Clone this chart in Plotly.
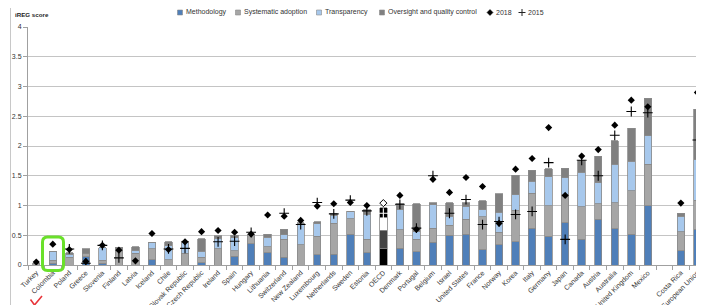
import plotly.graph_objects as go

countries = ["Turkey", "Colombia", "Poland", "Greece", "Slovenia", "Finland", "Latvia", "Iceland",
             "Chile", "Slovak Republic", "Czech Republic", "Ireland", "Spain", "Hungary", "Lithuania",
             "Switzerland", "New Zealand", "Luxembourg", "Netherlands", "Sweden", "Estonia", "OECD",
             "Denmark", "Portugal", "Belgium", "Israel", "United States", "France", "Norway", "Korea",
             "Italy", "Germany", "Japan", "Canada", "Austria", "Australia", "United Kingdom", "Mexico",
             "\u00a0", "Costa Rica", "European Union"]

methodology = [0, 0.03, 0, 0.14, 0.03, 0, 0, 0.09, 0, 0, 0.04, 0, 0.15, 0.36, 0.21, 0.13, 0, 0.17,
               0.18, 0.52, 0.21, 0.27, 0.28, 0.22, 0.38, 0.50, 0.52, 0.26, 0.34, 0.39, 0.62, 0.48,
               0.71, 0.43, 0.77, 0.61, 0.52, 1.00, None, 0.24, 0.60]
systematic = [0.03, 0.05, 0.13, 0.05, 0.05, 0.24, 0.20, 0.18, 0.09, 0.20, 0.09, 0.27, 0.09, 0.16, 0.10,
              0.30, 0.34, 0.31, 0.52, 0.26, 0.22, 0.31, 0.31, 0.21, 0.24, 0.17, 0.25, 0.55, 0.21, 0.53,
              0.59, 0.52, 0.47, 0.55, 0.26, 0.44, 0.73, 0.69, None, 0.32, 0.49]
transparency = [0, 0.14, 0.05, 0, 0.21, 0, 0.05, 0.10, 0.23, 0.18, 0.10, 0.18, 0.22, 0, 0.16, 0.08,
                0.34, 0.21, 0.14, 0.12, 0.42, 0.22, 0.34, 0.13, 0.39, 0.15, 0.22, 0.12, 0.34, 0.26,
                0.20, 0.48, 0.29, 0.58, 0.35, 0.64, 0.49, 0.48, None, 0.26, 0.68]
oversight = [0, 0, 0.03, 0.08, 0, 0.06, 0.06, 0, 0.07, 0.02, 0.21, 0.04, 0.04, 0, 0.05, 0.09, 0.03,
             0.04, 0.02, 0, 0.08, 0.16, 0.10, 0.47, 0.04, 0.23, 0.06, 0.15, 0.31, 0.33, 0.18, 0.14,
             0.16, 0.19, 0.45, 0.40, 0.56, 0.63, None, 0.05, 0.85]
score_2018 = [0.05, 0.35, 0.26, 0.06, 0.33, 0.25, 0.07, 0.53, 0.26, 0.39, 0.56, 0.58, 0.55, 0.52,
              0.84, 0.82, 0.75, 0.99, 1.03, 1.05, 1.00, 1.04, 1.17, 0.60, 1.44, 1.22, 1.47, 1.32,
              0.70, 1.61, 1.79, 2.31, 1.17, 1.83, 1.94, 2.35, 2.77, 2.66, None, 1.04, 2.90]
score_2015 = [None, None, 0.27, 0.03, 0.33, 0.12, None, None, 0.27, 0.28, None, 0.39, 0.40, 0.55,
              None, 0.87, 0.68, 1.05, 0.86, 1.09, 0.91, 0.87, 1.02, 0.62, 1.50, 0.87, 1.10, 0.68,
              0.73, 0.85, 0.90, 1.72, 0.43, 1.76, 1.50, 2.18, 2.58, 2.56, None, None, 2.10]

y_ticks = [0, 0.5, 1, 1.5, 2, 2.5, 3, 3.5, 4]
y_ticklabels = ["0", "0.5", "1", "1.5", "2", "2.5", "3", "3.5", "4"]

OECD_IDX = countries.index("OECD")

def colors(normal, oecd):
    return [oecd if i == OECD_IDX else normal for i in range(len(countries))]

FONT = "Liberation Sans, Arial, sans-serif"
outline = "#8a8a8a"

series = [
    ("Methodology", methodology, "#4f7fb9", "#000000"),
    ("Systematic adoption", systematic, "#a6a6a6", "#444444"),
    ("Transparency", transparency, "#a7c8ec", "#ffffff"),
    ("Oversight and quality control", oversight, "#808080", "#000000"),
]

fig = go.Figure()
for name, vals, c, oc in series:
    fig.add_trace(go.Bar(
        x=countries, y=vals, name=name, width=0.45, showlegend=False,
        marker=dict(color=colors(c, oc), line=dict(color=outline, width=0.8)),
    ))

fig.add_trace(go.Scatter(
    x=countries, y=score_2018, name="2018", mode="markers", showlegend=False,
    marker=dict(symbol="diamond", size=5.5,
                color=colors("#000000", "#ffffff"),
                line=dict(color="#000000", width=colors(0, 1))),
))
fig.add_trace(go.Scatter(
    x=countries, y=score_2015, name="2015", mode="markers", showlegend=False,
    marker=dict(symbol="cross-thin", size=7,
                line=dict(color=colors("#000000", "#ffffff"), width=1.1)),
))

# the page body has an 8px margin: lay out in window pixels and shift
OX, OY = 8, 8
W, H = 704 - OX, 305 - OY
L, R, T, B = 28 - OX, 0, 27 - OY, 40
pw, ph = W - L - R, H - T - B

def px(x):
    return (x - OX - L) / pw

def py(y):
    return (H - B - (y - OY)) / ph

shapes = []
annotations = []
# frame line on the left
shapes.append(dict(type="line", xref="paper", yref="paper", x0=px(10.5), x1=px(10.5),
                   y0=py(305), y1=py(8), line=dict(color="#c8c8c8", width=1)))
# green highlight around Colombia
x0, x1, y0, y1, r = px(42.5), px(63.5), py(237), py(270.5), 5
rx, ry = r / pw, r / ph
path = (f"M {x0+rx},{y0} L {x1-rx},{y0} Q {x1},{y0} {x1},{y0-ry} L {x1},{y1+ry} "
        f"Q {x1},{y1} {x1-rx},{y1} L {x0+rx},{y1} Q {x0},{y1} {x0},{y1+ry} "
        f"L {x0},{y0-ry} Q {x0},{y0} {x0+rx},{y0} Z")
shapes.append(dict(type="path", xref="paper", yref="paper", path=path,
                   line=dict(color="#6ae02a", width=3)))
# red check mark
check = f"M {px(30.5)},{py(299.5)} L {px(34.5)},{py(305)} L {px(42)},{py(296)}"
shapes.append(dict(type="path", xref="paper", yref="paper", path=check,
                   line=dict(color="#e8343a", width=1.6)))

# manual legend (compact, like the reference)
LEG_Y = 12.5
LEG_FONT = dict(family=FONT, size=7, color="#333333")
legend_boxes = [(177.5, "Methodology", 0), (235.5, "Systematic adoption", 1),
                (316.5, "Transparency", 2), (379.5, "Oversight and quality control", 3)]
for lx, label, k in legend_boxes:
    shapes.append(dict(type="rect", xref="paper", yref="paper",
                       x0=px(lx), x1=px(lx + 5), y0=py(LEG_Y - 2.5), y1=py(LEG_Y + 2.5),
                       fillcolor=series[k][2], line=dict(color=outline, width=0.6)))
    annotations.append(dict(text=label, xref="paper", yref="paper", x=px(lx + 6), y=py(LEG_Y),
                            xanchor="left", yanchor="middle", showarrow=False, font=LEG_FONT))
# 2018 diamond
dx, d = 490, 3
shapes.append(dict(type="path", xref="paper", yref="paper",
                   path=(f"M {px(dx)},{py(LEG_Y-d)} L {px(dx+d)},{py(LEG_Y)} "
                         f"L {px(dx)},{py(LEG_Y+d)} L {px(dx-d)},{py(LEG_Y)} Z"),
                   fillcolor="#000000", line=dict(color="#000000", width=0.5)))
annotations.append(dict(text="2018", xref="paper", yref="paper", x=px(494), y=py(LEG_Y),
                        xanchor="left", yanchor="middle", showarrow=False, font=LEG_FONT))
# 2015 plus
cx, c = 522, 3.5
shapes.append(dict(type="line", xref="paper", yref="paper", x0=px(cx - c), x1=px(cx + c),
                   y0=py(LEG_Y), y1=py(LEG_Y), line=dict(color="#222222", width=1)))
shapes.append(dict(type="line", xref="paper", yref="paper", x0=px(cx), x1=px(cx),
                   y0=py(LEG_Y - c), y1=py(LEG_Y + c), line=dict(color="#222222", width=1)))
annotations.append(dict(text="2015", xref="paper", yref="paper", x=px(526), y=py(LEG_Y),
                        xanchor="left", yanchor="middle", showarrow=False, font=LEG_FONT))
annotations.append(dict(text="<b>iREG score</b>", xref="paper", yref="paper",
                        x=px(12.5), y=py(14.5), xanchor="left", yanchor="middle", showarrow=False,
                        font=dict(family=FONT, size=6.2, color="#222222")))

fig.update_layout(
    width=W, height=H,
    margin=dict(l=L, r=R, t=T, b=B, pad=0, autoexpand=False),
    barmode="stack",
    plot_bgcolor="white", paper_bgcolor="white",
    font=dict(family=FONT, size=7, color="#333333"),
    showlegend=False,
    shapes=shapes,
    annotations=annotations,
)
fig.update_xaxes(
    type="category", categoryorder="array", categoryarray=countries,
    range=[-0.5, 40.4], tickangle=-45, tickfont=dict(size=7, color="#333333"),
    showline=True, linecolor="#a0a0a0", linewidth=1, automargin=False,
    ticks="outside", tickson="boundaries", ticklen=4, tickcolor="#a0a0a0",
    showgrid=False,
)
fig.update_yaxes(
    range=[0, 4], tickmode="array", tickvals=y_ticks, ticktext=y_ticklabels,
    showgrid=True, gridcolor="#c4c4c4", gridwidth=1.3, automargin=False,
    showline=True, linecolor="#a0a0a0", linewidth=1,
    ticks="outside", ticklen=4, tickcolor="#a0a0a0",
    tickfont=dict(size=7, color="#333333"), zeroline=False,
)

fig.write_html("out.html")
